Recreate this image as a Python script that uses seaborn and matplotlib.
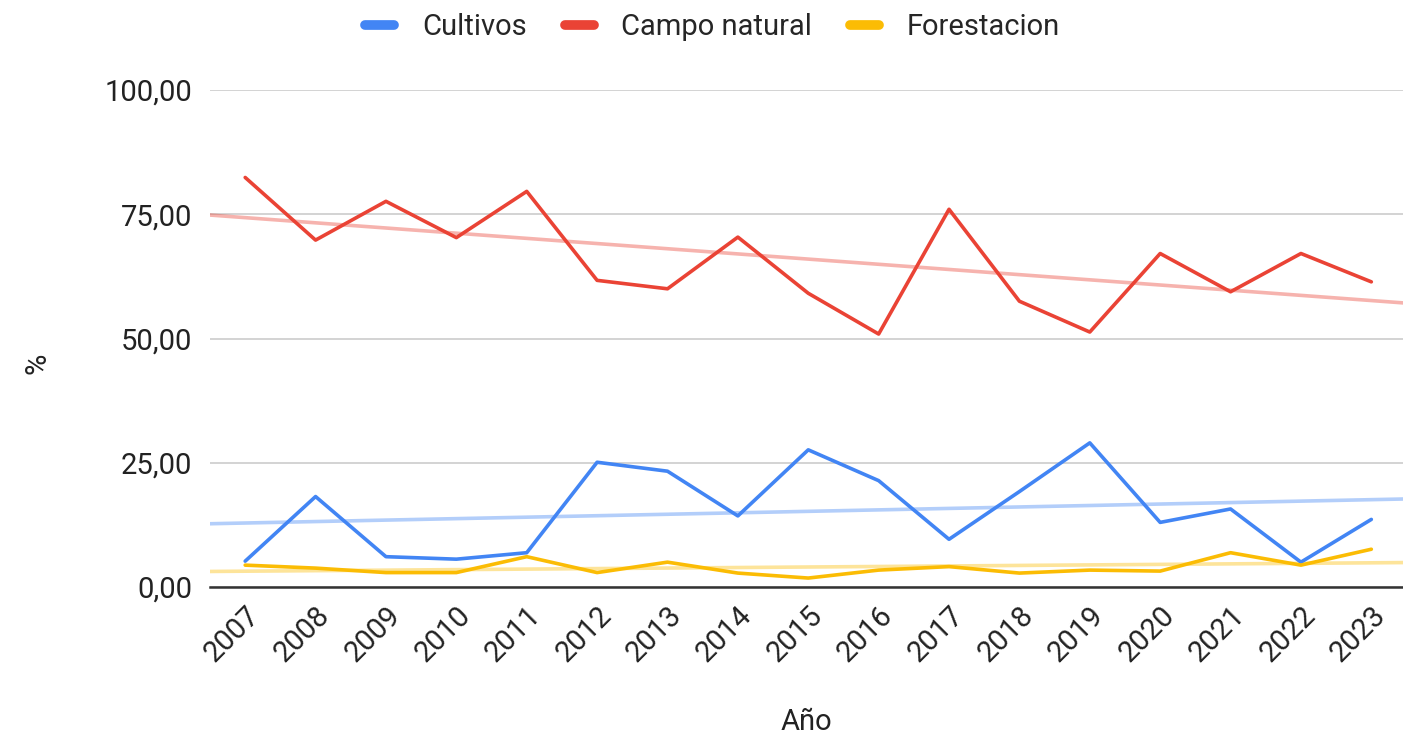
import numpy as np
import pandas as pd
import matplotlib
matplotlib.use("Agg")
import matplotlib.pyplot as plt
from matplotlib.ticker import FuncFormatter
from matplotlib.lines import Line2D
import seaborn as sns

years = list(range(2007, 2024))
cultivos = [5.2, 18.2, 6.1, 5.6, 6.9, 25.1, 23.3, 14.3, 27.6, 21.4, 9.6, 19.2, 29.0, 13.0, 15.7, 5.0, 13.6]
campo_natural = [82.4, 69.8, 77.6, 70.3, 79.6, 61.7, 60.0, 70.4, 59.1, 50.9, 76.0, 57.5, 51.3, 67.1, 59.4, 67.1, 61.4]
forestacion = [4.4, 3.8, 2.9, 2.9, 6.1, 2.9, 5.0, 2.8, 1.8, 3.4, 4.1, 2.8, 3.4, 3.2, 6.9, 4.4, 7.6]

series = ["Cultivos", "Campo natural", "Forestacion"]
colors = {"Cultivos": "#4285F4", "Campo natural": "#EA4335", "Forestacion": "#FBBC04"}

df = pd.DataFrame({"Año": years, "Cultivos": cultivos,
                   "Campo natural": campo_natural, "Forestacion": forestacion})
long_df = df.melt(id_vars="Año", var_name="serie", value_name="valor")

sns.set_theme(style="white")
plt.rcParams["font.family"] = ["Roboto", "DejaVu Sans"]

FS = 21
TXT = "#222222"

fig = plt.figure(figsize=(14.03, 7.43), dpi=100)
ax = fig.add_axes([210 / 1403, 1 - 587 / 743, 1 - 210 / 1403, (587 - 90) / 743])

ax.set_xlim(2006.5, 2023.45)
ax.set_ylim(0, 100)

# trend lines first so they sit under the data
for s in series:
    sns.regplot(data=df, x="Año", y=s, ax=ax, scatter=False, ci=None, truncate=False,
                line_kws={"color": colors[s], "alpha": 0.4, "lw": 2.6})

sns.lineplot(data=long_df, x="Año", y="valor", hue="serie", palette=colors,
             hue_order=series, ax=ax, lw=2.6, legend=False)

ax.set_xlim(2006.5, 2023.45)
ax.set_ylim(0, 100)
ax.set_yticks([0, 25, 50, 75, 100])
ax.yaxis.set_major_formatter(FuncFormatter(lambda v, p: f"{v:.2f}".replace(".", ",")))
ax.set_xticks(years)
ax.set_xticklabels([str(y) for y in years], rotation=45, ha="right", rotation_mode="anchor")

ax.grid(axis="y", color="#cccccc", lw=1.2)
ax.grid(axis="x", visible=False)
for side in ["top", "right", "left"]:
    ax.spines[side].set_visible(False)
ax.spines["bottom"].set_color("#333333")
ax.spines["bottom"].set_linewidth(1.8)
ax.tick_params(axis="y", length=0, pad=13, labelsize=FS, labelcolor=TXT)
ax.tick_params(axis="x", length=0, pad=10, labelsize=FS, labelcolor=TXT)

ax.set_xlabel("Año", fontsize=FS, color=TXT, va="center")
ax.xaxis.set_label_coords(0.5, -(722 - 587) / 497)
ax.set_ylabel("%", fontsize=FS, color=TXT)
ax.yaxis.set_label_coords(-0.133, 0.45)

handles = [Line2D([0], [0], color=colors[s], lw=7, solid_capstyle="round") for s in series]
fig.legend(handles, series, loc="center", bbox_to_anchor=(0.508, 1 - 27 / 743), ncol=3,
           frameon=False, fontsize=FS, handlelength=1.0, columnspacing=1.3, handletextpad=0.95)

fig.savefig("out.png", dpi=100)
